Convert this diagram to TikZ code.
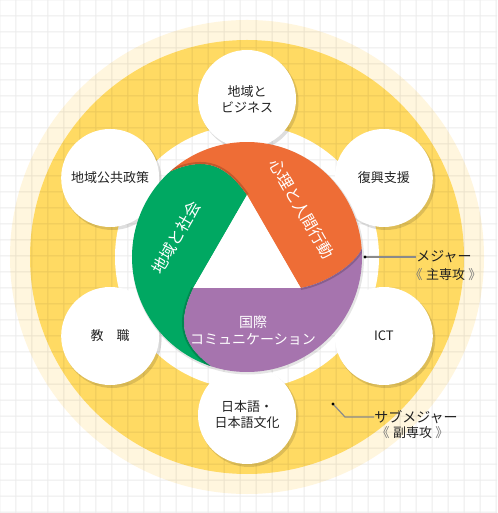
\documentclass[tikz,border=0pt]{standalone}
\usepackage{fontspec}
\setmainfont{Noto Sans CJK JP}
\definecolor{paleyel}{HTML}{FFF6DE}
\definecolor{bgyel}{HTML}{FFDA63}
\definecolor{bgreen}{HTML}{00A862}
\definecolor{borange}{HTML}{EE6D36}
\definecolor{bpurple}{HTML}{A674AE}
\definecolor{satc}{HTML}{222222}
\definecolor{lblc}{HTML}{222222}
\definecolor{brc}{HTML}{777777}
\definecolor{leaderc}{HTML}{8A8A8A}
\def\greenblade{(90:62) .. controls (-20.1,90.7) and (-40.4,101.8) .. (132:115) arc[start angle=132,end angle=252,radius=115] .. controls (231.6:109.5) and (222.5:92.9) .. (210:62) -- cycle}
\def\orangeblade{(-30:62) .. controls (78.3,-26.7) and (107.5,-8) .. (4:115) arc[start angle=4,end angle=132,radius=115] .. controls (-40.4,101.8) and (-20.1,90.7) .. (90:62) -- cycle}
\def\purpleblade{(210:62) .. controls (222.5:92.9) and (231.6:109.5) .. (252:115) arc[start angle=252,end angle=364,radius=115] .. controls (107.5,-8) and (78.3,-26.7) .. (-30:62) -- cycle}
\newcommand{\brk}[1]{\textcolor{brc}{《}\hspace{2.5pt}#1\hspace{2.5pt}\textcolor{brc}{》}}
\begin{document}
\begin{tikzpicture}[x=0.75pt,y=0.75pt,
  sat/.style={circle, fill=white, minimum size=73.5pt, inner sep=0pt, align=center, text=satc, font=\fontsize{9.75}{12}\selectfont},
  bladetext/.style={text=white, inner sep=0pt, align=center, font=\fontsize{12}{14}\selectfont},
  lbl/.style={text=lblc, inner sep=0pt, font=\fontsize{10.5}{12}\selectfont},
  sublbl/.style={text=lblc, inner sep=0pt, font=\fontsize{9.75}{12}\selectfont},
  leader/.style={draw=leaderc, line width=0.9pt},
  gridline/.style={line width=0.75pt},
  bshadow/.style={draw=black, opacity=0.18, line width=3pt}
]
\useasboundingbox (-247,-256) rectangle (250,257);
\fill[white] (-247,-256) rectangle (250,257);
\fill[paleyel] (0,0) circle[radius=237];
\fill[bgyel] (0,0) circle[radius=217];
\fill[white] (0,0) circle[radius=132];
% grid
\begin{scope}[transparency group, opacity=0.08]
  \foreach \i in {0,...,31} \draw[gridline] ({-247+16*\i},-256) -- ({-247+16*\i},257);
  \foreach \j in {0,...,32} \draw[gridline] (-247,{257-16*\j}) -- (250,{257-16*\j});
\end{scope}
% satellite shadows
\begin{scope}[shift={(2,-2.5)}]
  \foreach \a in {90,30,-30,-90,-150,150}
    \fill[black, opacity=0.13] (\a:158) circle[radius=49.5];
\end{scope}
% satellites
\node[sat] (sbiz) at (90:158) {地域と\\ビジネス};
\node[sat] (sfuk) at (30:158) {復興支援};
\node[sat] (sict) at (-30:158) {ICT};
\node[sat] (sjap) at (-90:158) {日本語・\\日本語文化};
\node[sat] (sedu) at (-150:158) {教　職};
\node[sat] (spol) at (150:158) {地域公共政策};
% disc shadow
\fill[black, opacity=0.10] (1,-1.5) circle[radius=116];
% blades
\fill[bgreen] \greenblade;
\fill[borange] \orangeblade;
\fill[bpurple] \purpleblade;
\begin{scope}
  \clip \orangeblade;
  \draw[bshadow] (90:62) .. controls (-20.1,90.7) and (-40.4,101.8) .. (132:115);
\end{scope}
\begin{scope}
  \clip \purpleblade;
  \draw[bshadow] (-30:62) .. controls (78.3,-26.7) and (107.5,-8) .. (4:115);
\end{scope}
\begin{scope}
  \clip \greenblade;
  \draw[bshadow] (210:62) .. controls (222.5:92.9) and (231.6:109.5) .. (252:115);
\end{scope}
\fill[white] (90:62) -- (210:62) -- (-30:62) -- cycle;
% blade texts
\node[bladetext, rotate=-60] (tpsy) at (54.7,48) {心理と人間行動};
\node[bladetext, rotate=60] (tloc) at (-70.5,19.5) {地域と社会};
\node[bladetext, font=\fontsize{10.5}{12.75}\selectfont] (tint) at (6,-73.5) {国際\\コミュニケーション};
% labels
\coordinate (majdot) at (118,0);
\node[lbl, anchor=west] (maj) at (169,0) {メジャー};
\node[sublbl] (majsub) at (198.5,-18) {\brk{主専攻}};
\draw[leader] (majdot) -- (maj.west);
\fill[black] (majdot) circle[radius=1.7];
\coordinate (subdot) at (86,-147);
\coordinate (subbend) at (98,-160);
\node[lbl, anchor=west] (sub) at (127,-160) {サブメジャー};
\node[sublbl] (subsub) at (165.5,-176) {\brk{副専攻}};
\draw[leader] (subdot) -- (subbend) -- (sub.west);
\fill[black] (subdot) circle[radius=1.7];
\end{tikzpicture}
\end{document}
